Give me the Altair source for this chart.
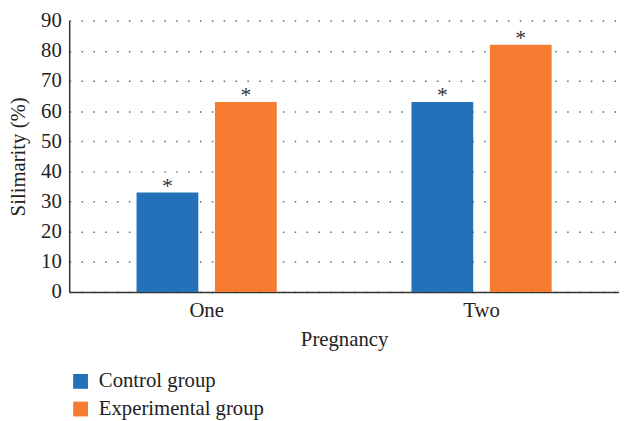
import altair as alt
import pandas as pd

categories = ["One", "Two"]
groups = ["Control group", "Experimental group"]
control = [33, 63]
experimental = [63, 82]
colors = ["#2271b9", "#f47b30"]

rows = []
for i, c in enumerate(categories):
    rows.append({"Pregnancy": c, "Group": groups[0], "Value": control[i], "Mark": "*"})
    rows.append({"Pregnancy": c, "Group": groups[1], "Value": experimental[i], "Mark": "*"})
df = pd.DataFrame(rows)

FONT = "Times New Roman, DejaVu Serif"
FS = 21

x = alt.X("Pregnancy:N", sort=categories, title="Pregnancy",
          scale=alt.Scale(paddingInner=0.49, paddingOuter=0.245),
          axis=alt.Axis(labelAngle=0, grid=False))
xo = alt.XOffset("Group:N", sort=groups, scale=alt.Scale(paddingInner=0.2125, paddingOuter=0))
y = alt.Y("Value:Q", title="Silimarity (%)", scale=alt.Scale(domain=[0, 90]),
          axis=alt.Axis(values=list(range(0, 91, 10)), tickCount=10, grid=True))

bars = alt.Chart(df).mark_bar().encode(
    x=x, xOffset=xo, y=y,
    color=alt.Color("Group:N", sort=groups, scale=alt.Scale(domain=groups, range=colors),
                    legend=alt.Legend(title=None, orient="none", legendX=1, legendY=355,
                                      direction="vertical", symbolType="square",
                                      symbolSize=225, symbolStrokeWidth=0, symbolOpacity=1,
                                      rowPadding=6, labelOffset=8, padding=0, labelLimit=400)),
)

stars = alt.Chart(df).mark_text(font=FONT, fontSize=22, color="#333333",
                                baseline="alphabetic", dy=0).encode(
    x=x, xOffset=xo, y=y, text="Mark:N")

chart = alt.layer(bars, stars).properties(
    width=557, height=275,
    autosize=alt.AutoSizeParams(type="none"),
    padding={"left": 62, "top": 10, "right": 0, "bottom": 140},
).configure(font=FONT).configure_view(stroke=None).configure_axis(
    ticks=False, domainColor="#333333", domainWidth=1.5,
    gridDash=[1.5, 10.5], gridColor="#666666", gridWidth=1.5,
    labelFont=FONT, labelFontSize=FS, labelColor="#222222", labelPadding=8,
    titleFont=FONT, titleFontSize=FS, titleFontWeight="normal", titleColor="#222222",
).configure_axisX(titlePadding=8).configure_axisY(titlePadding=12).configure_legend(
    labelFont=FONT, labelFontSize=FS, labelColor="#222222")

chart.save("out.html", embed_options={"renderer": "svg", "actions": False})
